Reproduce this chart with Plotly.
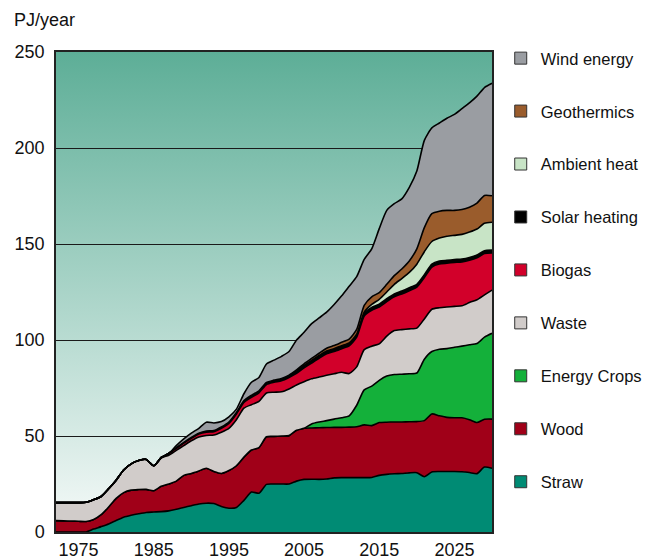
import base64
import plotly.graph_objects as go

years = list(range(1972, 2031))

straw = [0, 0, 0, 0, 0, 1.5, 2.8, 4.2, 6.0, 7.7, 8.7, 9.5, 10.2, 10.4, 10.6, 11.0, 11.8, 12.8, 13.7, 14.6,
         15.0, 14.8, 13.3, 12.4, 12.8, 16.5, 20.8, 20.2, 24.8, 25.0, 25.0, 25.0, 26.5, 27.4, 27.5, 27.4, 27.6,
         28.2, 28.3, 28.3, 28.3, 28.3, 28.4, 29.5, 30.0, 30.3, 30.5, 30.8, 30.9, 28.8, 31.3, 31.5, 31.5, 31.5,
         31.4, 31.0, 30.4, 33.8, 33.2]
wood = [5.9, 5.8, 5.7, 5.6, 5.5, 5.0, 6.2, 8.8, 11.5, 12.8, 13.1, 12.6, 12.0, 11.1, 13.2, 14.0, 14.7, 16.7,
        16.8, 17.2, 18.2, 16.7, 17.2, 19.6, 21.7, 22.5, 21.9, 23.8, 24.8, 24.8, 25.0, 25.2, 26.5, 26.6, 26.7,
        26.9, 26.8, 26.3, 26.2, 26.3, 26.5, 27.5, 27.0, 27.5, 27.2, 27.0, 26.8, 26.6, 26.6, 29.2, 30.2, 29.0,
        28.2, 28.0, 28.1, 27.5, 26.6, 24.9, 25.6]
energy_crops = [0] * 34 + [2.1, 3.0, 3.6, 4.3, 5.0, 5.9, 11.2, 18.2, 20.6, 22.0, 24.0, 24.7, 24.9, 25.0,
                           25.3, 32.0, 32.5, 34.7, 35.8, 36.7, 37.3, 39.0, 41.2, 42.8, 44.7]
waste = [9.4, 9.5, 9.6, 9.7, 10.0, 10.3, 9.5, 9.5, 9.5, 11.8, 13.7, 15.1, 15.6, 13.0, 14.7, 15.0, 16.0, 15.5,
         17.0, 17.7, 17.1, 19.0, 21.5, 22.0, 24.0, 25.5, 23.6, 24.0, 22.8, 23.0, 23.0, 24.3, 23.6, 24.3, 23.5,
         23.4, 23.6, 23.6, 23.7, 22.0, 20.0, 21.0, 20.8, 19.0, 20.8, 22.9, 23.2, 23.4, 23.4, 21.0, 22.0, 21.6,
         21.7, 21.3, 21.0, 22.0, 22.8, 22.0, 22.5]
biogas = [0] * 14 + [0.3, 0.9, 1.1, 1.3, 1.3, 1.5, 1.7, 1.7, 2.0, 2.6, 3.0, 3.0, 3.9, 4.5, 4.4, 5.2, 5.8, 6.0,
                     6.0, 7.2, 8.2, 9.8, 11.2, 11.6, 12.3, 14.5, 15.5, 17.5, 18.7, 19.2, 18.0, 17.6, 18.6,
                     19.9, 21.3, 21.5, 22.0, 22.8, 22.8, 22.9, 22.9, 22.0, 21.8, 21.5, 19.3]
solar_heating = [0] * 16 + [0.3, 0.4, 0.5, 0.5, 0.6, 0.6, 0.7, 0.7, 0.8, 0.9, 1.0, 1.0, 1.1, 1.1, 1.2, 1.2,
                            1.3, 1.3, 1.4, 1.4] + [1.5] * 23
ambient_heat = [0] * 41 + [0.5, 1.5, 2.5, 3.5, 5.0, 6.5, 8.0, 10.5, 12.0, 11.8, 12.0, 12.5, 12.6, 12.8, 13.2,
                           13.5, 14.3, 14.5]
geothermics = [0] * 32 + [0.5, 0.8, 1.0, 1.2, 1.4, 1.6, 1.8, 2.0, 2.5, 3.5, 4.0, 3.5, 4.0, 4.5, 5.0, 6.0, 8.0,
                          12.5, 14.5, 14.0, 13.5, 13.0, 13.0, 13.0, 13.5, 14.5, 13.8]
wind_energy = [0] * 16 + [1.1, 1.8, 2.2, 2.5, 4.6, 4.0, 2.8, 2.7, 1.7, 3.6, 6.8, 7.0, 9.6, 10.4, 11.5, 12.3,
                          15.6, 16.4, 18.1, 18.4, 18.8, 21.4, 24.2, 27.5, 27.5, 24.0, 25.0, 33.3, 38.5, 37.5,
                          36.5, 38.3, 40.5, 45.5, 44.7, 45.9, 48.0, 50.0, 52.5, 54.3, 55.7, 56.2, 58.6]

series_names = ["Straw", "Wood", "Energy Crops", "Waste", "Biogas", "Solar heating",
                "Ambient heat", "Geothermics", "Wind energy"]
series_values = [straw, wood, energy_crops, waste, biogas, solar_heating,
                 ambient_heat, geothermics, wind_energy]
colors = ["#008B74", "#A00018", "#14B03A", "#D1CCCA", "#D2002A", "#000000",
          "#C8E4C6", "#9A5C2C", "#9A9DA2"]

x_ticks = [1975, 1985, 1995, 2005, 2015, 2025]
y_ticks = [0, 50, 100, 150, 200, 250]

FONT = "Liberation Sans, Arial, sans-serif"

fig = go.Figure()
for name, vals, col in zip(series_names, series_values, colors):
    fig.add_trace(go.Scatter(
        x=years, y=vals, name=name, stackgroup="one", mode="lines",
        line=dict(color="#000000", width=1.6, shape="spline", smoothing=0.6),
        fillcolor=col, showlegend=False, hoverinfo="x+y+name",
    ))

# legend entries (square swatches), top to bottom
for rank, (name, col) in enumerate(zip(series_names[::-1], colors[::-1])):
    fig.add_trace(go.Scatter(
        x=[None], y=[None], mode="markers", name=name, legendgroup=name,
        marker=dict(symbol="square", size=12, color=col, line=dict(color="#333333", width=1)),
        showlegend=True, legendrank=rank + 1,
    ))

svg = ("<svg xmlns='http://www.w3.org/2000/svg' width='100' height='100' viewBox='0 0 100 100' "
       "preserveAspectRatio='none'><defs><linearGradient id='g' x1='0' y1='0' x2='0' y2='1'>"
       "<stop offset='0' stop-color='#5DAE97'/><stop offset='1' stop-color='#F6FAF9'/>"
       "</linearGradient></defs><rect width='100' height='100' fill='url(#g)'/></svg>")
src = "data:image/svg+xml;base64," + base64.b64encode(svg.encode()).decode()

fig.update_layout(
    width=643, height=551,
    margin=dict(l=48, r=159, t=44, b=27, autoexpand=False),
    paper_bgcolor="#FFFFFF",
    plot_bgcolor="rgba(0,0,0,0)",
    font=dict(family=FONT, color="#111111", size=18),
    images=[dict(source=src, xref="paper", yref="paper", x=0, y=1, sizex=1, sizey=1,
                 xanchor="left", yanchor="top", sizing="stretch", layer="below")],
    xaxis=dict(range=[1972, 2030], tickvals=x_ticks, ticktext=[str(v) for v in x_ticks],
               showgrid=False, zeroline=False, showline=True, linecolor="#222222", linewidth=1.5,
               mirror=True, ticks="outside", ticklen=1, tickcolor="rgba(0,0,0,0)",
               tickfont=dict(size=18, family=FONT)),
    yaxis=dict(range=[0, 250], tickvals=y_ticks, ticktext=[str(v) for v in y_ticks],
               showgrid=True, gridcolor="#1a1a1a", gridwidth=1, zeroline=False,
               showline=True, linecolor="#222222", linewidth=1.5, mirror=True,
               ticks="outside", ticklen=6, tickcolor="rgba(0,0,0,0)",
               tickfont=dict(size=18, family=FONT)),
    legend=dict(x=1.02, y=0.545, xanchor="left", yanchor="middle", traceorder="grouped",
                tracegroupgap=28.5, font=dict(size=16.5, family=FONT, color="#111111"),
                bgcolor="rgba(0,0,0,0)", itemsizing="trace"),
    annotations=[dict(text="PJ/year", xref="paper", yref="paper", x=-0.101, y=1.0667,
                      xanchor="left", yanchor="middle", showarrow=False,
                      font=dict(size=18, family=FONT, color="#111111"))],
    hovermode="closest",
)

fig.write_html("out.html")
